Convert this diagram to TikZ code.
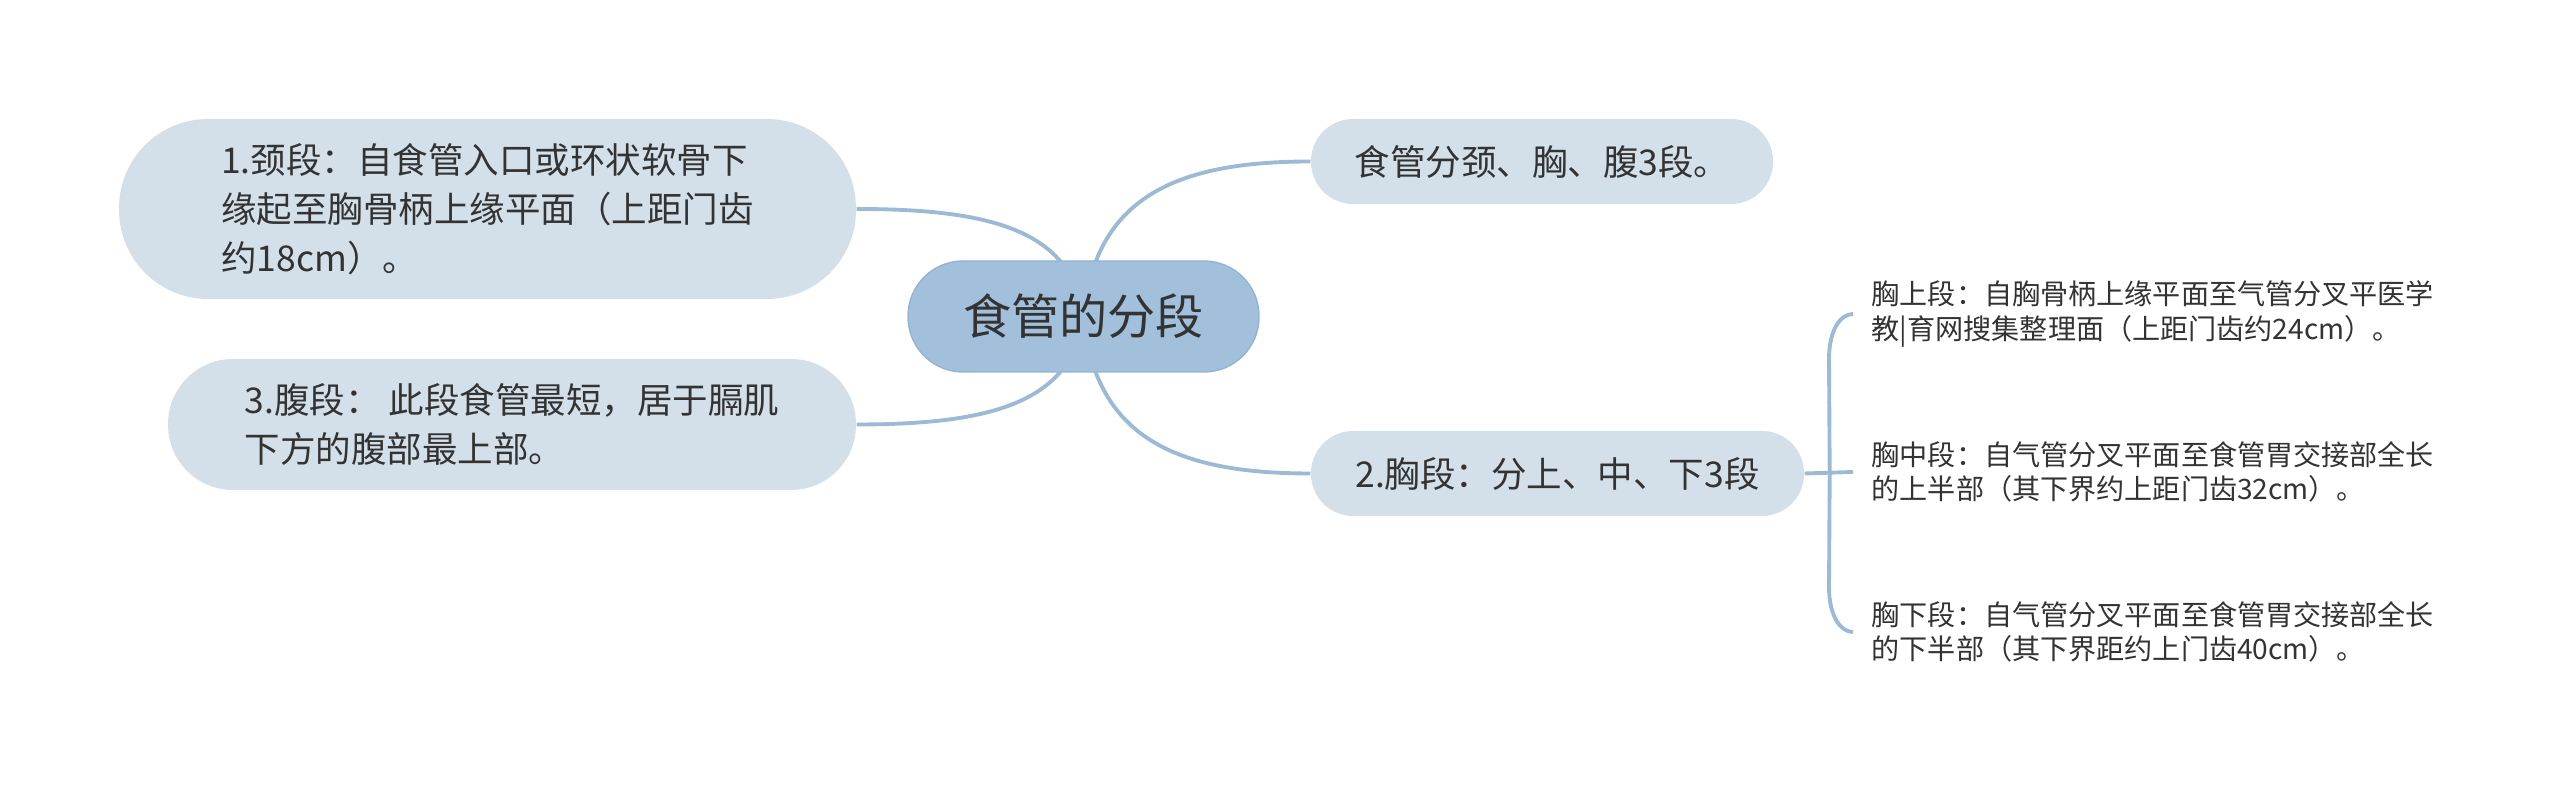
\documentclass[tikz,border=0pt]{standalone}
\usepackage{fontspec}
\setmainfont{Noto Sans CJK SC}
\usetikzlibrary{backgrounds}
\definecolor{rootfill}{HTML}{A2BFDB}
\definecolor{rootline}{HTML}{94B4D3}
\definecolor{subfill}{HTML}{D3E0EA}
\definecolor{linkc}{HTML}{9CBAD5}
\definecolor{txt}{HTML}{333333}
\begin{document}
\begin{tikzpicture}[
  box/.style={fill=subfill, text=txt, font=\fontsize{10.1}{13.9}\selectfont, align=left, inner sep=0pt},
  leaf/.style={anchor=west, text=txt, font=\fontsize{8}{9.7}\selectfont, align=left, inner sep=0pt},
  link/.style={draw=linkc, line width=1.1pt}
]
\useasboundingbox (0,0) rectangle (25.6,-8.01);
\node [fill=rootfill, draw=rootline, text=txt, font=\fontsize{13.7}{16}\selectfont, minimum width=3.51cm, minimum height=1.11cm, rounded corners=0.55cm] (root) at (10.835,-3.165) {食管的分段};
\node [box, minimum width=7.37cm, minimum height=1.8cm, rounded corners=0.89cm] (neck) at (4.875,-2.09) {1.颈段：自食管入口或环状软骨下\\缘起至胸骨柄上缘平面（上距门齿\\约18cm）。};
\node [box, minimum width=6.88cm, minimum height=1.31cm, rounded corners=0.65cm] (abd) at (5.12,-4.245) {3.腹段： 此段食管最短，居于膈肌\\下方的腹部最上部。};
\node [box, minimum width=4.62cm, minimum height=0.85cm, rounded corners=0.42cm] (intro) at (15.42,-1.615) {食管分颈、胸、腹3段。};
\node [box, minimum width=4.93cm, minimum height=0.85cm, rounded corners=0.42cm] (chest) at (15.575,-4.735) {2.胸段：分上、中、下3段};
\node [leaf] (up) at (18.71,-3.14) {胸上段：自胸骨柄上缘平面至气管分叉平医学\\教|育网搜集整理面（上距门齿约24cm）。};
\node [leaf] (mid) at (18.71,-4.72) {胸中段：自气管分叉平面至食管胃交接部全长\\的上半部（其下界约上距门齿32cm）。};
\node [leaf] (low) at (18.71,-6.32) {胸下段：自气管分叉平面至食管胃交接部全长\\的下半部（其下界距约上门齿40cm）。};
\coordinate (fork) at ([xshift=0.25cm]chest.east);
% links behind the nodes
\begin{scope}[on background layer]
\draw [link] (root.center) .. controls (10.72,-2.3) and (9.9,-2.09) .. (neck.east);
\draw [link] (root.center) .. controls (10.72,-4.03) and (9.9,-4.245) .. (abd.east);
\draw [link] (root.center) .. controls (10.95,-1.95) and (11.8,-1.615) .. (intro.west);
\draw [link] (root.center) .. controls (10.95,-4.4) and (11.8,-4.735) .. (chest.west);
\end{scope}
\draw [link] (chest.east) -- ([xshift=-0.18cm]mid.west);
\draw [link] (fork) -- ([xshift=-0.42cm,yshift=-0.45cm]up.west) .. controls ([xshift=-0.42cm,yshift=-0.15cm]up.west) and ([xshift=-0.3cm]up.west) .. ([xshift=-0.18cm]up.west);
\draw [link] (fork) -- ([xshift=-0.42cm,yshift=0.45cm]low.west) .. controls ([xshift=-0.42cm,yshift=0.15cm]low.west) and ([xshift=-0.3cm]low.west) .. ([xshift=-0.18cm]low.west);
\end{tikzpicture}
\end{document}
